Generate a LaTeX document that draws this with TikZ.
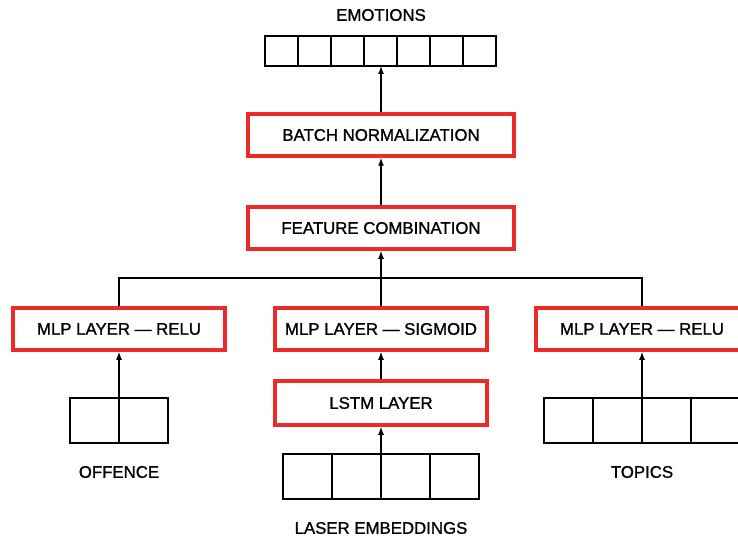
\documentclass[tikz,border=0pt]{standalone}
\usepackage{fontspec}
\setmainfont{Liberation Sans}
\newfontfamily\labelfont{Liberation Sans}[FakeBold=1.2]
\usetikzlibrary{arrows.meta,positioning}

\begin{document}
\begin{tikzpicture}[x=1pt, y=-1pt,
    layer/.style={draw=layerRed, line width=3.5pt, minimum width=266pt, minimum height=42pt, inner sep=0pt, font=\labelfont\fontsize{16.8}{19}\selectfont},
    cell/.style={draw, line width=2pt, inner sep=0pt, outer sep=0pt},
    title/.style={font=\labelfont\fontsize{16.8}{19}\selectfont},
    link/.style={line width=1.4pt, -{Latex[length=8pt,width=6pt]}},
    wire/.style={line width=1.4pt}]
    % Define colours
    \definecolor{layerRed}{HTML}{EC2A2A}

    % Define picture size
    \useasboundingbox (0,0) rectangle (738,540);
    \clip (0,0) rectangle (738,540);

    % Red layer boxes
    \node[layer] (norm) at (381,135) {BATCH NORMALIZATION};
    \node[layer] (comb) at (381,228) {FEATURE COMBINATION};
    \node[layer, minimum width=212pt] (mlpL) at (119,329) {MLP LAYER — RELU};
    \node[layer, minimum width=212pt] (mlpM) at (381,329) {MLP LAYER — SIGMOID};
    \node[layer, minimum width=212pt] (mlpR) at (642,329) {MLP LAYER — RELU};
    \node[layer, minimum width=212pt, minimum height=44pt] (lstm) at (381,403) {LSTM LAYER};

    % Output vector
    \foreach \i in {1,...,7}
        \node[cell, minimum width=33pt, minimum height=30pt] (emo-\i) at (265+33*\i-16.5,51) {};
    \node[title] (emoLabel) at (381,15) {EMOTIONS};

    % Input vectors
    \foreach \i in {1,2}
        \node[cell, minimum width=49pt, minimum height=45pt] (off-\i) at (70+49*\i-24.5,420.5) {};
    \foreach \i in {1,...,4}
        \node[cell, minimum width=49pt, minimum height=45pt] (las-\i) at (283+49*\i-24.5,476.5) {};
    \foreach \i in {1,...,4}
        \node[cell, minimum width=49pt, minimum height=45pt] (top-\i) at (544+49*\i-24.5,420.5) {};
    \node[title] (offLabel) at (119,472) {OFFENCE};
    \node[title] (lasLabel) at (381,528) {LASER EMBEDDINGS};
    \node[title] (topLabel) at (642,472) {TOPICS};

    % Connections
    \coordinate (join) at (381,278);
    \draw[wire] (mlpL.north) |- (join) -| (mlpR.north);
    \draw[link] (mlpM.north) -- (comb.south);
    \draw[link] (comb.north) -- (norm.south);
    \draw[link] (norm.north) -- (norm.north |- emo-4.south);
    \draw[link] (off-1.north east) -- (mlpL.south);
    \draw[link] (las-2.north east) -- (lstm.south);
    \draw[link] (lstm.north) -- (mlpM.south);
    \draw[link] (top-2.north east) -- (mlpR.south);

\end{tikzpicture}
\end{document}
